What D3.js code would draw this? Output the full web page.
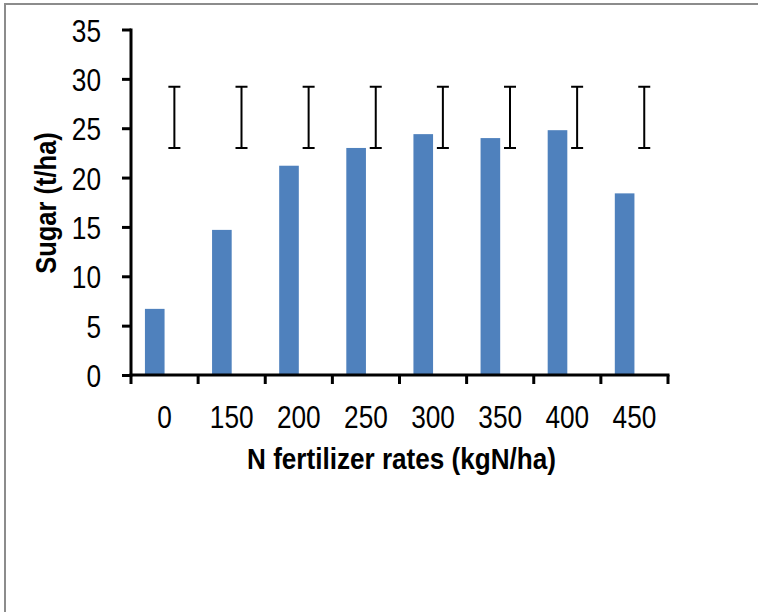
<!DOCTYPE html>
<html>
<head>
<meta charset="utf-8">
<script src="https://cdn.jsdelivr.net/npm/d3@7"></script>
<style>
  body { margin: 0; background: #fff; }
  svg { display: block; }
  text { font-family: "Liberation Sans Narrow", "Arial Narrow", "Liberation Sans", Arial, sans-serif; fill: #000; }
</style>
</head>
<body>
<div id="chart"></div>
<script>
'use strict';

// N rates (kgN/ha) on the x axis
var rates = ['0', '150', '200', '250', '300', '350', '400', '450'];
// sugar yield (t/ha)
var sugar = [6.7, 14.7, 21.2, 23.0, 24.4, 24.0, 24.8, 18.4];
// error bar (LSD) shown next to each bar: centre and half length
var errMid = [26.1, 26.1, 26.1, 26.1, 26.1, 26.1, 26.1, 26.1];
var errHalf = [3.1, 3.1, 3.1, 3.1, 3.1, 3.1, 3.1, 3.1];
var yTicks = [0, 5, 10, 15, 20, 25, 30, 35];

// the original uses a condensed face; squeeze the regular one instead
var squeeze = 0.87;
var tickSqueeze = 0.82;

function makeChart(containerSelector) {
  var width = 758;
  var height = 612;
  var left = 131, right = 668, top = 29.5, bottom = 375;

  var svg = d3.select(containerSelector)
    .append('svg')
    .attr('width', width)
    .attr('height', height);

  // chart frame (only top and left edges are visible)
  svg.append('path')
    .attr('d', 'M5,' + height + 'V4H' + width)
    .attr('fill', 'none')
    .attr('stroke', '#8c8c8c')
    .attr('stroke-width', 2);

  var x0 = d3.scaleBand().domain(rates).range([left, right]);
  var x1 = d3.scaleBand().domain(['sugar', 'err'])
    .range([0, x0.bandwidth()])
    .paddingOuter(0.71);
  var y = d3.scaleLinear().domain([0, 35]).range([bottom, top]);

  var data = rates.map(function(r, i) {
    return { rate: r, sugar: sugar[i], mid: errMid[i], half: errHalf[i] };
  });

  // bars
  svg.append('g').selectAll('rect')
    .data(data)
    .enter().append('rect')
    .attr('x', function(d) { return x0(d.rate) + x1('sugar'); })
    .attr('y', function(d) { return y(d.sugar); })
    .attr('width', x1.bandwidth())
    .attr('height', function(d) { return y(0) - y(d.sugar); })
    .attr('fill', '#4f81bd');

  // error bars
  var capW = 6;
  svg.append('g')
    .attr('stroke', '#000')
    .attr('stroke-width', 2)
    .attr('fill', 'none')
    .selectAll('path')
    .data(data)
    .enter().append('path')
    .attr('d', function(d) {
      var cx = x0(d.rate) + x1('err') + x1.bandwidth() / 2;
      var yt = y(d.mid + d.half), yb = y(d.mid - d.half);
      return 'M' + (cx - capW) + ',' + yt + 'H' + (cx + capW) +
             'M' + cx + ',' + yt + 'V' + yb +
             'M' + (cx - capW) + ',' + yb + 'H' + (cx + capW);
    });

  // y axis
  var yAxis = d3.axisLeft(y).tickValues(yTicks).tickSize(9).tickPadding(21);
  var gy = svg.append('g')
    .attr('transform', 'translate(' + left + ',0)')
    .call(yAxis);
  gy.select('.domain').attr('stroke', '#000').attr('stroke-width', 3)
    .attr('d', 'M0,' + (top - 1) + 'V' + (bottom + 1.5));
  gy.selectAll('.tick line').attr('stroke', '#000').attr('stroke-width', 3);
  gy.selectAll('.tick text')
    .style('font-size', '32px')
    .attr('x', 0)
    .attr('dy', '0.36em')
    .attr('transform', 'translate(-30,0) scale(' + tickSqueeze + ',1)');

  // x axis: ticks between categories
  var xAxis = d3.axisBottom(x0).tickSize(0).tickPadding(0);
  var gx = svg.append('g')
    .attr('transform', 'translate(0,' + bottom + ')')
    .call(xAxis);
  gx.select('.domain').attr('stroke', '#000').attr('stroke-width', 3)
    .attr('d', 'M' + (left - 1.5) + ',0H' + (right + 1.5));
  gx.selectAll('.tick text')
    .style('font-size', '32px')
    .attr('y', 0)
    .attr('dy', 0)
    .attr('transform', 'translate(0,53) scale(' + tickSqueeze + ',1)');

  var bounds = rates.map(function(r) { return x0(r); }).concat([right]);
  gx.selectAll('.sep')
    .data(bounds)
    .enter().append('line')
    .attr('class', 'sep')
    .attr('x1', function(d) { return d; })
    .attr('x2', function(d) { return d; })
    .attr('y1', 0)
    .attr('y2', 9)
    .attr('stroke', '#000')
    .attr('stroke-width', 3);

  // axis titles
  svg.append('text')
    .attr('transform', 'translate(' + ((left + right) / 2 + 2) + ',469) scale(' + squeeze + ',1)')
    .attr('text-anchor', 'middle')
    .style('font-size', '30px')
    .style('font-weight', 'bold')
    .text('N fertilizer rates (kgN/ha)');

  svg.append('text')
    .attr('transform', 'translate(56,203) rotate(-90) scale(0.85,1)')
    .attr('text-anchor', 'middle')
    .style('font-size', '30px')
    .style('font-weight', 'bold')
    .text('Sugar (t/ha)');
}

makeChart('#chart');
</script>
</body>
</html>
